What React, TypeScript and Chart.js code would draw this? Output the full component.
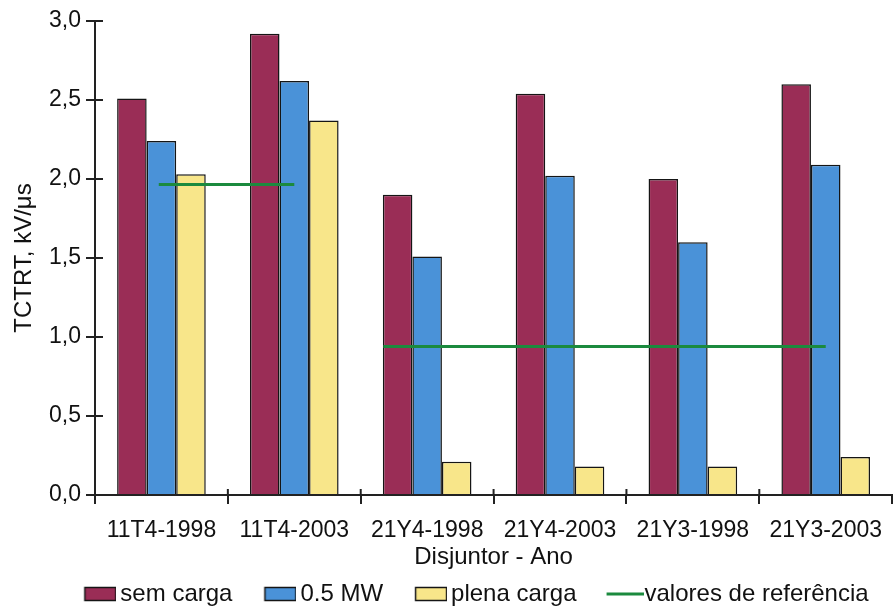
import React, { useEffect, useRef } from "react";
import { Chart, registerables } from "chart.js";

Chart.register(...registerables);

const categories = ["11T4-1998", "11T4-2003", "21Y4-1998", "21Y4-2003", "21Y3-1998", "21Y3-2003"];
const semCarga = [2.51, 2.92, 1.9, 2.54, 2.0, 2.6];
const meioMW = [2.24, 2.62, 1.51, 2.02, 1.6, 2.09];
const plenaCarga = [2.03, 2.37, 0.21, 0.18, 0.18, 0.24];
// reference values: two segments, x given as (fractional) category index
const refX = [-0.02, 1.0, 1.3, 1.67, 5.0];
const refY = [1.965, 1.965, null, 0.94, 0.94];
const yTicks = [0, 0.5, 1, 1.5, 2, 2.5, 3];
const seriesLabels = ["sem carga", "0.5 MW", "plena carga", "valores de referência"];

const FONT = "'Liberation Sans', Arial, sans-serif";
const MAROON = "#9a2d56";
const BLUE = "#4a92d8";
const YELLOW = "#f8e68a";
const GREEN = "#1b8a3e";
const EDGE = "#151515";

function legendSwatch(kind: "box" | "line", color: string) {
  const c = document.createElement("canvas");
  c.width = kind === "box" ? 62 : 68;
  c.height = 16;
  const g = c.getContext("2d")!;
  if (kind === "box") {
    g.fillStyle = color;
    g.fillRect(30, 1, 32, 14);
    g.strokeStyle = EDGE;
    g.lineWidth = 1.5;
    g.strokeRect(30.5, 1.5, 31, 13);
  } else {
    g.strokeStyle = color;
    g.lineWidth = 3;
    g.beginPath();
    g.moveTo(31, 8);
    g.lineTo(68, 8);
    g.stroke();
  }
  return c;
}

const tickPlugin = {
  id: "crossTicks",
  afterLayout(chart: any) {
    const lg = chart.legend;
    if (lg) {
      lg.left += 17;
      lg.right += 17;
      lg.top += 6;
      lg.bottom += 6;
    }
  },
  afterDraw(chart: any) {
    const ctx = chart.ctx;
    const y = chart.scales.y;
    const x = chart.scales.x;
    ctx.save();
    ctx.strokeStyle = "#222";
    ctx.lineWidth = 2;
    ctx.beginPath();
    for (const v of yTicks) {
      const py = y.getPixelForValue(v);
      ctx.moveTo(x.left, py);
      ctx.lineTo(x.left + 8, py);
    }
    for (let i = 1; i < categories.length; i++) {
      const px = (x.getPixelForValue(i - 1) + x.getPixelForValue(i)) / 2;
      ctx.moveTo(px, y.bottom);
      ctx.lineTo(px, y.bottom - 6);
    }
    ctx.stroke();
    ctx.restore();
  },
};

export default function App() {
  const ref = useRef<HTMLCanvasElement>(null);
  useEffect(() => {
    document.body.style.margin = "0";
    const swatches = [
      legendSwatch("box", MAROON),
      legendSwatch("box", BLUE),
      legendSwatch("box", YELLOW),
      legendSwatch("line", GREEN),
    ];
    const barStyle = { borderColor: EDGE, borderWidth: 1.5, order: 0 };
    const chart = new Chart(ref.current!, {
      type: "bar",
      data: {
        labels: categories,
        datasets: [
          { label: seriesLabels[0], data: semCarga, backgroundColor: MAROON, ...barStyle },
          { label: seriesLabels[1], data: meioMW, backgroundColor: BLUE, ...barStyle },
          { label: seriesLabels[2], data: plenaCarga, backgroundColor: YELLOW, ...barStyle },
          {
            type: "line",
            label: seriesLabels[3],
            data: refX.map((x, i) => ({ x, y: refY[i] })) as any,
            parsing: false,
            borderColor: GREEN,
            backgroundColor: GREEN,
            borderWidth: 3,
            pointRadius: 0,
            spanGaps: false,
            order: -1,
          } as any,
        ],
      },
      options: {
        animation: false,
        responsive: false,
        devicePixelRatio: 1,
        layout: { padding: { left: 0, right: 0, top: 21, bottom: 0 } },
        datasets: { bar: { categoryPercentage: 0.667, barPercentage: 1 } },
        scales: {
          x: {
            offset: true,
            afterFit: (s: any) => { s.height = 71; },
            grid: { display: true, drawOnChartArea: false, tickLength: 9, color: "#222", lineWidth: 2, offset: true },
            border: { display: true, color: "#222", width: 2 },
            ticks: { color: "#111", font: { family: FONT, size: 23, lineHeight: 1 }, padding: 15, maxRotation: 0, autoSkip: false },
            title: { display: true, text: "Disjuntor - Ano", color: "#111", font: { family: FONT, size: 24, lineHeight: 0.75 }, padding: { top: 0, bottom: 0 } },
          },
          y: {
            min: 0,
            max: 3,
            afterFit: (s: any) => { s.width = 95; },
            afterBuildTicks: (s: any) => { s.ticks = yTicks.map((v) => ({ value: v })); },
            grid: { display: true, drawOnChartArea: false, tickLength: 9, color: "#222", lineWidth: 2 },
            border: { display: true, color: "#222", width: 2 },
            ticks: {
              color: "#111",
              font: { family: FONT, size: 23 },
              padding: 5,
              callback: (v: any) => Number(v).toFixed(1).replace(".", ","),
            },
            title: { display: true, text: "TCTRT, kV/\u03bcs", color: "#111", font: { family: FONT, size: 24, lineHeight: 1 }, padding: { top: 12, bottom: 0 } },
          },
        },
        plugins: {
          tooltip: { enabled: false },
          legend: {
            position: "bottom",
            labels: {
              color: "#111",
              font: { family: FONT, size: 24 },
              usePointStyle: true,
              pointStyleWidth: 46,
              boxHeight: 15,
              padding: 10,
              sort: (a: any, b: any) => a.datasetIndex - b.datasetIndex,
              generateLabels: (c: any) => {
                const items = (Chart.defaults.plugins.legend.labels as any).generateLabels(c);
                return items.map((it: any) => ({ ...it, pointStyle: swatches[it.datasetIndex], fontColor: "#111" }));
              },
            },
          },
        },
      },
      plugins: [tickPlugin],
    });
    return () => chart.destroy();
  }, []);
  return (
    <div style={{ width: 894, height: 610, background: "#fff", overflow: "hidden" }}>
      <canvas ref={ref} width={897} height={610} style={{ display: "block" }} />
    </div>
  );
}
